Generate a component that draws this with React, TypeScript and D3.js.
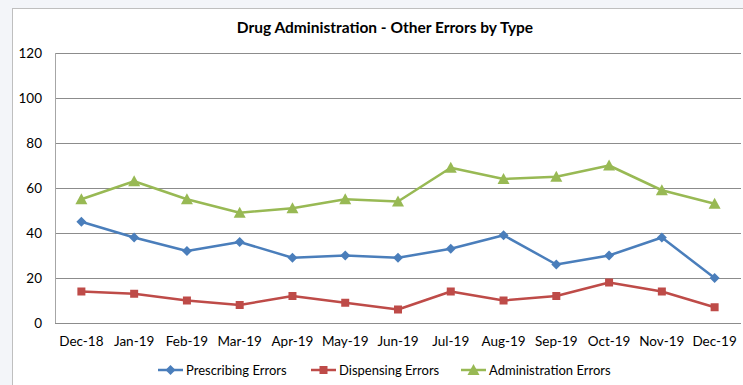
import React from "react";
import * as d3 from "d3";

const months = ["Dec-18","Jan-19","Feb-19","Mar-19","Apr-19","May-19","Jun-19","Jul-19","Aug-19","Sep-19","Oct-19","Nov-19","Dec-19"];
const prescribing = [45, 38, 32, 36, 29, 30, 29, 33, 39, 26, 30, 38, 20];
const dispensing = [14, 13, 10, 8, 12, 9, 6, 14, 10, 12, 18, 14, 7];
const administration = [55, 63, 55, 49, 51, 55, 54, 69, 64, 65, 70, 59, 53];
const yTicks = [0, 20, 40, 60, 80, 100, 120];
const seriesNames = ["Prescribing Errors", "Dispensing Errors", "Administration Errors"];
const title = "Drug Administration - Other Errors by Type";

const W = 743, H = 385;
const FONT = "Lato, 'Open Sans', sans-serif";

const series = [
  { name: seriesNames[0], values: prescribing, color: "#4A7EBB", marker: "diamond" },
  { name: seriesNames[1], values: dispensing, color: "#BE4B48", marker: "square" },
  { name: seriesNames[2], values: administration, color: "#98B954", marker: "triangle" },
];

function Marker({ type, x, y, color }: { type: string; x: number; y: number; color: string }) {
  if (type === "diamond") {
    const s = 5;
    return <path d={`M${x},${y - s}L${x + s},${y}L${x},${y + s}L${x - s},${y}Z`} fill={color} />;
  }
  if (type === "square") {
    const s = 4;
    return <rect x={x - s} y={y - s} width={2 * s} height={2 * s} fill={color} />;
  }
  const s = 6;
  return <path d={`M${x},${y - s}L${x + s},${y + s - 1}L${x - s},${y + s - 1}Z`} fill={color} />;
}

export default function App() {
  const x = d3.scaleBand<string>().domain(months).range([55, 741]).padding(0);
  const cx = (m: string) => (x(m) ?? 0) + x.bandwidth() / 2;
  const y = d3.scaleLinear().domain([0, 120]).range([323, 53]);
  const line = d3.line<number>().x((_, i) => cx(months[i])).y((d) => y(d));

  const legendX = [158, 311, 461];

  return (
    <div style={{ position: "absolute", left: 0, top: 0 }}>
      <svg width={W} height={H} style={{ display: "block" }}>
        <rect x={0} y={0} width={W} height={H} fill="#F3F5F9" />
        <rect x={12.5} y={8.5} width={W} height={H} fill="#FFFFFF" stroke="#BFBFBF" strokeWidth={1} />
        <text x={385} y={33} textAnchor="middle" fontFamily={FONT} fontWeight="bold" fontSize={15.5} fill="#000">
          {title}
        </text>
        {yTicks.map((t) => (
          <g key={t}>
            <line x1={55} x2={741} y1={Math.round(y(t)) + 0.5} y2={Math.round(y(t)) + 0.5} stroke="#8C8C8C" strokeWidth={1} />
            <text x={42} y={y(t) + 4.5} textAnchor="end" fontFamily={FONT} fontSize={13.5} fill="#000">
              {t}
            </text>
          </g>
        ))}
        <line x1={55.5} x2={55.5} y1={53} y2={323} stroke="#A6A6A6" strokeWidth={1} />
        {months.map((m) => (
          <text key={m} x={cx(m)} y={346} textAnchor="middle" fontFamily={FONT} fontSize={13.5} fill="#000">
            {m}
          </text>
        ))}
        {series.map((s) => (
          <g key={s.name}>
            <path d={line(s.values) ?? ""} fill="none" stroke={s.color} strokeWidth={2.5} strokeLinejoin="round" />
            {s.values.map((v, i) => (
              <Marker key={i} type={s.marker} x={cx(months[i])} y={y(v)} color={s.color} />
            ))}
          </g>
        ))}
        {series.map((s, i) => (
          <g key={s.name}>
            <line x1={legendX[i]} x2={legendX[i] + 25} y1={370} y2={370} stroke={s.color} strokeWidth={2.5} />
            <Marker type={s.marker} x={legendX[i] + 12.5} y={370} color={s.color} />
            <text x={legendX[i] + 28} y={374.5} fontFamily={FONT} fontSize={13} fill="#000">
              {s.name}
            </text>
          </g>
        ))}
      </svg>
    </div>
  );
}
